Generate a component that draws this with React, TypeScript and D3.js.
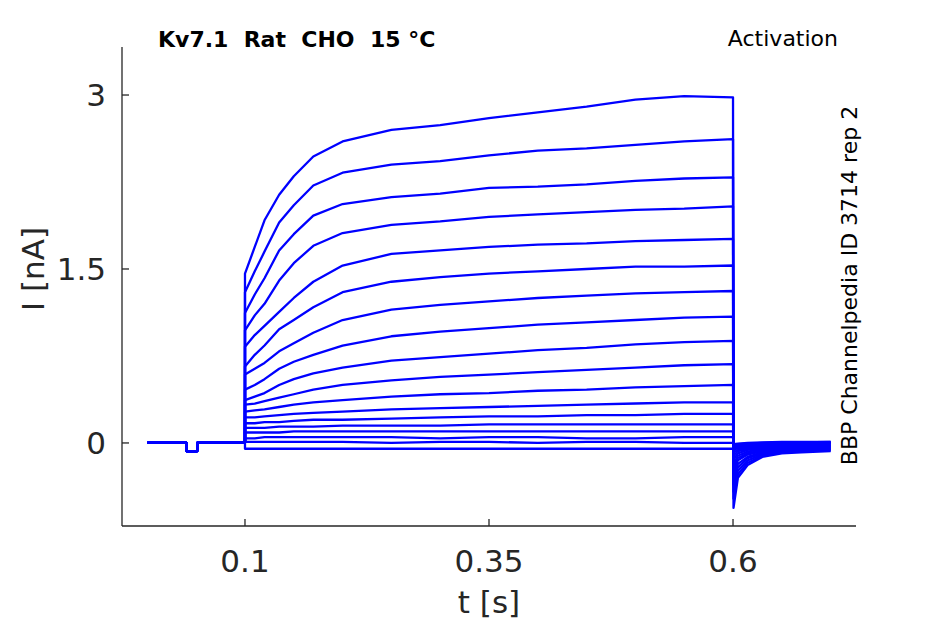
import { useEffect, useRef } from "react";
import * as d3 from "d3";

// sample times during the step (s)
const stepTimes = [0.1, 0.11, 0.12, 0.135, 0.15, 0.17, 0.2, 0.25, 0.3, 0.35, 0.4, 0.45, 0.5, 0.55, 0.6];

// current (nA) of each sweep at stepTimes
const stepValues: number[][] = [
  [1.46, 1.69, 1.92, 2.14, 2.3, 2.47, 2.6, 2.7, 2.74, 2.8, 2.85, 2.9, 2.96, 2.99, 2.98],
  [1.3, 1.48, 1.65, 1.9, 2.05, 2.22, 2.33, 2.4, 2.43, 2.48, 2.52, 2.54, 2.57, 2.6, 2.62],
  [1.12, 1.28, 1.42, 1.66, 1.8, 1.96, 2.06, 2.12, 2.15, 2.2, 2.21, 2.23, 2.26, 2.28, 2.29],
  [0.97, 1.1, 1.2, 1.4, 1.55, 1.7, 1.81, 1.88, 1.91, 1.95, 1.97, 1.99, 2.01, 2.02, 2.04],
  [0.83, 0.93, 1.01, 1.13, 1.25, 1.39, 1.53, 1.63, 1.66, 1.69, 1.71, 1.72, 1.74, 1.75, 1.76],
  [0.66, 0.76, 0.84, 0.98, 1.06, 1.17, 1.3, 1.39, 1.43, 1.46, 1.48, 1.5, 1.52, 1.52, 1.53],
  [0.59, 0.64, 0.69, 0.79, 0.86, 0.95, 1.06, 1.15, 1.19, 1.22, 1.25, 1.27, 1.29, 1.3, 1.31],
  [0.46, 0.5, 0.55, 0.64, 0.7, 0.76, 0.84, 0.92, 0.96, 0.99, 1.02, 1.04, 1.06, 1.08, 1.09],
  [0.37, 0.4, 0.43, 0.5, 0.55, 0.6, 0.65, 0.71, 0.74, 0.77, 0.8, 0.82, 0.85, 0.87, 0.88],
  [0.33, 0.34, 0.36, 0.39, 0.42, 0.46, 0.5, 0.54, 0.57, 0.59, 0.61, 0.63, 0.65, 0.67, 0.68],
  [0.27, 0.28, 0.29, 0.31, 0.33, 0.35, 0.37, 0.4, 0.42, 0.43, 0.45, 0.46, 0.48, 0.49, 0.5],
  [0.22, 0.22, 0.23, 0.24, 0.25, 0.26, 0.27, 0.29, 0.3, 0.31, 0.32, 0.33, 0.34, 0.35, 0.35],
  [0.17, 0.17, 0.18, 0.18, 0.19, 0.2, 0.2, 0.21, 0.22, 0.23, 0.23, 0.24, 0.24, 0.25, 0.25],
  [0.13, 0.13, 0.13, 0.14, 0.14, 0.14, 0.15, 0.15, 0.15, 0.16, 0.16, 0.16, 0.16, 0.16, 0.16],
  [0.09, 0.09, 0.09, 0.09, 0.1, 0.1, 0.1, 0.1, 0.1, 0.1, 0.1, 0.1, 0.1, 0.1, 0.1],
  [0.04, 0.04, 0.05, 0.05, 0.05, 0.05, 0.05, 0.05, 0.04, 0.05, 0.05, 0.04, 0.04, 0.05, 0.05],
  [0.01, 0.01, 0.01, 0.01, 0.01, 0.01, 0.01, 0.0, 0.01, 0.01, 0.0, 0.01, 0.01, 0.0, 0.0],
  [-0.05, -0.05, -0.05, -0.05, -0.05, -0.05, -0.05, -0.05, -0.05, -0.05, -0.05, -0.05, -0.05, -0.05, -0.05],
];

// holding period before the step (shared by all sweeps)
const holdTimes = [0.0, 0.04, 0.0401, 0.051, 0.0511, 0.1];
const holdValues = [0.0, 0.0, -0.07, -0.07, 0.0, 0.0];

// tail currents after the step
const tailTimes = [0.6005, 0.605, 0.615, 0.63, 0.65, 0.67, 0.7];
const tailValues: number[][] = [
  [-0.56, -0.3, -0.19, -0.12, -0.09, -0.08, -0.07],
  [-0.48, -0.27, -0.17, -0.11, -0.08, -0.07, -0.065],
  [-0.42, -0.24, -0.15, -0.1, -0.07, -0.06, -0.06],
  [-0.36, -0.21, -0.13, -0.09, -0.065, -0.055, -0.05],
  [-0.31, -0.18, -0.12, -0.08, -0.06, -0.05, -0.05],
  [-0.26, -0.15, -0.1, -0.07, -0.05, -0.045, -0.04],
  [-0.22, -0.13, -0.09, -0.06, -0.045, -0.04, -0.04],
  [-0.18, -0.11, -0.075, -0.05, -0.04, -0.035, -0.03],
  [-0.14, -0.09, -0.06, -0.045, -0.035, -0.03, -0.03],
  [-0.11, -0.07, -0.05, -0.04, -0.03, -0.025, -0.02],
  [-0.08, -0.06, -0.04, -0.03, -0.025, -0.02, -0.02],
  [-0.06, -0.045, -0.035, -0.025, -0.02, -0.015, -0.01],
  [-0.05, -0.035, -0.025, -0.02, -0.015, -0.01, -0.01],
  [-0.04, -0.03, -0.02, -0.015, -0.01, -0.005, 0.0],
  [-0.03, -0.02, -0.015, -0.01, -0.005, 0.0, 0.0],
  [-0.02, -0.015, -0.01, -0.005, 0.0, 0.005, 0.005],
  [-0.015, -0.01, -0.005, 0.0, 0.005, 0.005, 0.01],
  [-0.01, -0.005, 0.0, 0.005, 0.01, 0.01, 0.01],
];

const xTicks = [0.1, 0.35, 0.6];
const yTicks = [0, 1.5, 3];

export default function App() {
  const svgRef = useRef<SVGSVGElement>(null);
  const width = 945;
  const height = 624;

  useEffect(() => {
    document.body.style.margin = "0";
    if (!svgRef.current) return;
    const svg = d3.select(svgRef.current);
    svg.selectAll("*").remove();

    const left = 122;
    const right = 856;
    const top = 47;
    const bottom = 526;
    const font = "'DejaVu Sans', sans-serif";
    const ink = "#262626";

    const x = d3.scaleLinear().domain([-0.026, 0.726]).range([left, right]);
    const y = d3.scaleLinear().domain([-0.716, 3.414]).range([bottom, top]);

    const line = d3
      .line<[number, number]>()
      .x((d) => x(d[0]))
      .y((d) => y(d[1]));

    // Traces
    const traces = svg.append("g");
    stepValues.forEach((vals, i) => {
      const pts: [number, number][] = [];
      holdTimes.forEach((t, k) => pts.push([t, holdValues[k]]));
      stepTimes.forEach((t, k) => pts.push([t, vals[k]]));
      tailTimes.forEach((t, k) => pts.push([t, tailValues[i][k]]));
      traces
        .append("path")
        .datum(pts)
        .attr("fill", "none")
        .attr("stroke", "#0000ff")
        .attr("stroke-width", 2.3)
        .attr("stroke-linejoin", "round")
        .attr("d", line);
    });

    // Axes
    svg
      .append("line")
      .attr("x1", left)
      .attr("x2", left)
      .attr("y1", top)
      .attr("y2", bottom)
      .attr("stroke", ink)
      .attr("stroke-width", 1.3);
    svg
      .append("line")
      .attr("x1", left)
      .attr("x2", right)
      .attr("y1", bottom)
      .attr("y2", bottom)
      .attr("stroke", ink)
      .attr("stroke-width", 1.3);

    xTicks.forEach((t) => {
      svg
        .append("line")
        .attr("x1", x(t))
        .attr("x2", x(t))
        .attr("y1", bottom)
        .attr("y2", bottom - 7)
        .attr("stroke", ink)
        .attr("stroke-width", 1.3);
      svg
        .append("text")
        .attr("x", x(t))
        .attr("y", 572)
        .attr("text-anchor", "middle")
        .attr("font-family", font)
        .attr("font-size", 31)
        .attr("fill", ink)
        .text(String(t));
    });

    yTicks.forEach((v) => {
      svg
        .append("line")
        .attr("x1", left)
        .attr("x2", left + 7)
        .attr("y1", y(v))
        .attr("y2", y(v))
        .attr("stroke", ink)
        .attr("stroke-width", 1.3);
      svg
        .append("text")
        .attr("x", 106)
        .attr("y", y(v))
        .attr("dy", "0.36em")
        .attr("text-anchor", "end")
        .attr("font-family", font)
        .attr("font-size", 31)
        .attr("fill", ink)
        .text(String(v));
    });

    // Axis labels
    svg
      .append("text")
      .attr("x", (left + right) / 2)
      .attr("y", 613)
      .attr("text-anchor", "middle")
      .attr("font-family", font)
      .attr("font-size", 31)
      .attr("fill", ink)
      .text("t [s]");

    svg
      .append("text")
      .attr("transform", `translate(44,${y(1.5)}) rotate(-90)`)
      .attr("text-anchor", "middle")
      .attr("font-family", font)
      .attr("font-size", 31)
      .attr("fill", ink)
      .text("I [nA]");

    // Titles
    svg
      .append("text")
      .attr("x", 158)
      .attr("y", 47)
      .attr("font-family", font)
      .attr("font-size", 22)
      .attr("font-weight", "bold")
      .attr("fill", "#000")
      .style("white-space", "pre")
      .text("Kv7.1  Rat  CHO  15 °C");

    svg
      .append("text")
      .attr("x", 838)
      .attr("y", 46)
      .attr("text-anchor", "end")
      .attr("font-family", font)
      .attr("font-size", 22)
      .attr("fill", "#000")
      .text("Activation");

    svg
      .append("text")
      .attr("transform", `translate(857,${(103 + 468) / 2}) rotate(-90)`)
      .attr("text-anchor", "middle")
      .attr("font-family", font)
      .attr("font-size", 22)
      .attr("fill", "#000")
      .text("BBP Channelpedia ID 3714 rep 2");
  }, []);

  return (
    <svg
      ref={svgRef}
      width={width}
      height={height}
      style={{ display: "block", background: "#fff" }}
    />
  );
}
